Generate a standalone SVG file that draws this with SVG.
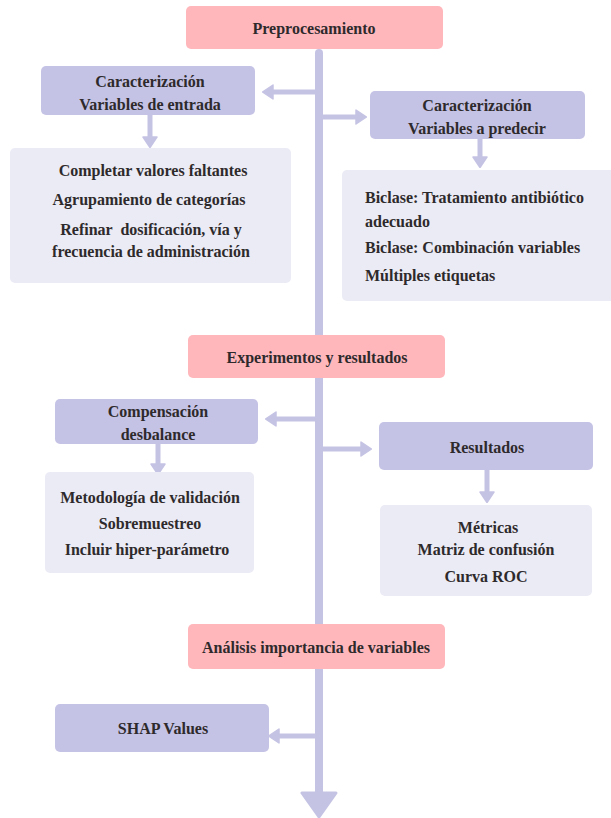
<svg xmlns="http://www.w3.org/2000/svg" width="611" height="818" viewBox="0 0 611 818">
<style>
.stage{fill:#ffb7bc}
.sub{fill:#c5c3e5}
.info{fill:#ebebf5}
text{font-family:"Liberation Serif","DejaVu Serif",serif;font-weight:bold;font-size:16px;fill:#2e2a2c;dominant-baseline:central}
.c{text-anchor:middle}
.conn{stroke:#c5c3e4;stroke-width:5;fill:none}
.spine{stroke:#c5c3e4;stroke-width:8;fill:none;stroke-linecap:round}
</style>
<defs>
<marker id="ah" markerUnits="userSpaceOnUse" viewBox="0 0 12 16" refX="4" refY="8" markerWidth="12" markerHeight="16" orient="auto">
<path d="M1,1 L11.5,8 L1,15 Z" fill="#c5c3e4" stroke="#c5c3e4" stroke-width="1.5" stroke-linejoin="round"/>
</marker>
</defs>
<rect width="611" height="818" fill="#ffffff"/>
<g id="connectors">
<path class="spine" d="M319,53 V796"/>
<path d="M302,793 L336,793 L319,817 Z" fill="#c5c3e4" stroke="#c5c3e4" stroke-width="3" stroke-linejoin="round"/>
<path class="conn" d="M319,92 H270" marker-end="url(#ah)"/>
<path class="conn" d="M319,117 H359" marker-end="url(#ah)"/>
<path class="conn" d="M150,115 V140" marker-end="url(#ah)"/>
<path class="conn" d="M480,139 V160" marker-end="url(#ah)"/>
<path class="conn" d="M319,419 H273" marker-end="url(#ah)"/>
<path class="conn" d="M319,449 H364" marker-end="url(#ah)"/>
<path class="conn" d="M158,444 V467" marker-end="url(#ah)"/>
<path class="conn" d="M487,470 V495" marker-end="url(#ah)"/>
<path class="conn" d="M319,736 H276" marker-end="url(#ah)"/>
</g>
<g id="preprocesamiento">
<rect class="stage" x="186" y="6" width="257" height="43" rx="5"/>
<text class="c" x="314" y="28">Preprocesamiento</text>
</g>
<g id="caract-entrada">
<rect class="sub" x="41" y="66" width="214" height="49" rx="5"/>
<text class="c" x="150" y="81">Caracterización</text>
<text class="c" x="150" y="104">Variables de entrada</text>
</g>
<g id="caract-predecir">
<rect class="sub" x="370" y="91" width="215" height="48" rx="5"/>
<text class="c" x="477" y="105">Caracterización</text>
<text class="c" x="477" y="128">Variables a predecir</text>
</g>
<g id="preproc-entrada-detalle">
<rect class="info" x="10" y="148" width="281" height="135" rx="5"/>
<text class="c" x="153" y="170">Completar valores faltantes</text>
<text class="c" x="149" y="199">Agrupamiento de categorías</text>
<text class="c" x="151" y="229" xml:space="preserve">Refinar  dosificación, vía y</text>
<text class="c" x="151" y="251">frecuencia de administración</text>
</g>
<g id="preproc-predecir-detalle">
<rect class="info" x="342" y="170" width="275" height="131" rx="5"/>
<text x="365" y="197">Biclase: Tratamiento antibiótico</text>
<text x="365" y="221">adecuado</text>
<text x="365" y="247">Biclase: Combinación variables</text>
<text x="365" y="275">Múltiples etiquetas</text>
</g>
<g id="experimentos">
<rect class="stage" x="188" y="335" width="257" height="43" rx="5"/>
<text class="c" x="317" y="357">Experimentos y resultados</text>
</g>
<g id="compensacion">
<rect class="sub" x="55" y="399" width="203" height="45" rx="5"/>
<text class="c" x="158" y="411">Compensación</text>
<text class="c" x="158" y="434">desbalance</text>
</g>
<g id="resultados">
<rect class="sub" x="379" y="422" width="214" height="48" rx="5"/>
<text class="c" x="487" y="447">Resultados</text>
</g>
<g id="compensacion-detalle">
<rect class="info" x="45" y="472" width="209" height="101" rx="5"/>
<text class="c" x="150" y="497">Metodología de validación</text>
<text class="c" x="150" y="523">Sobremuestreo</text>
<text class="c" x="147" y="549">Incluir hiper-parámetro</text>
</g>
<g id="resultados-detalle">
<rect class="info" x="380" y="505" width="212" height="91" rx="5"/>
<text class="c" x="488" y="527">Métricas</text>
<text class="c" x="486" y="549">Matriz de confusión</text>
<text class="c" x="486" y="576">Curva ROC</text>
</g>
<g id="analisis">
<rect class="stage" x="188" y="624" width="257" height="45" rx="5"/>
<text class="c" x="316" y="647">Análisis importancia de variables</text>
</g>
<g id="shap">
<rect class="sub" x="55" y="704" width="214" height="48" rx="5"/>
<text class="c" x="163" y="728">SHAP Values</text>
</g>
</svg>
